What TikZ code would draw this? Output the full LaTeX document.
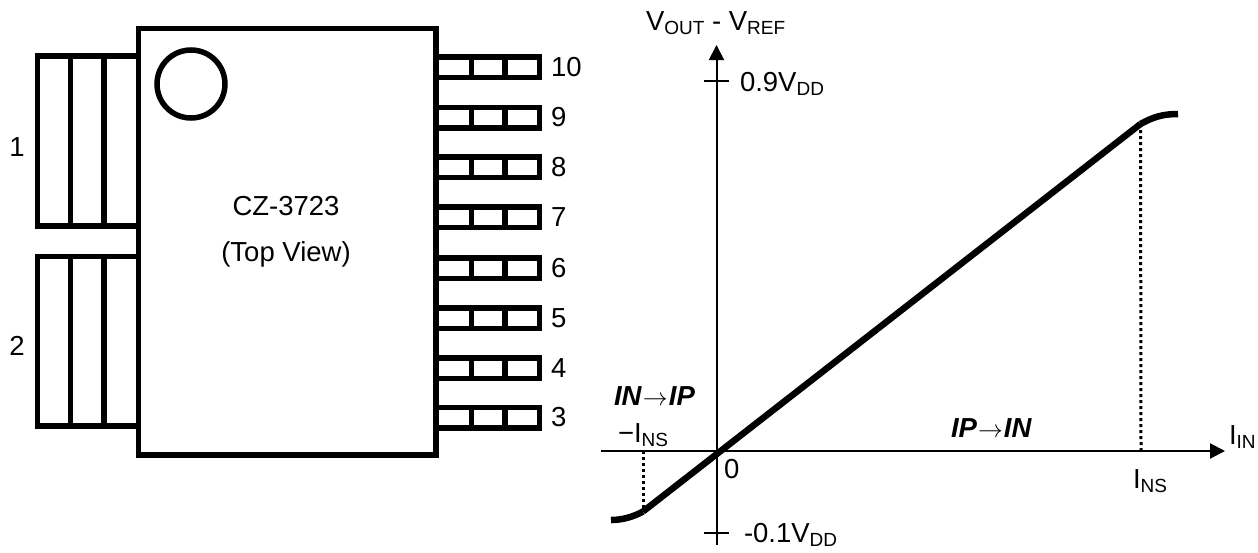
\documentclass[tikz,border=0pt]{standalone}
\usepackage{fontspec}
\setmainfont{Liberation Sans}
\usetikzlibrary{arrows.meta}
\newcommand\lowtxt[1]{\raisebox{-4.5pt}{\fontsize{19}{19}\selectfont #1}}
\newcommand\dirarrow{\hspace{1pt}$\rightarrow$\hspace{1pt}}
\tikzset{
  outline/.style={draw=black,line width=5.5pt,fill=white,line join=miter},
  pinline/.style={draw=black,line width=5.5pt},
  axisline/.style={draw=black,line width=2pt},
  axisarrow/.style={axisline,-{Triangle[length=15pt,width=15pt]}},
  curveline/.style={draw=black,line width=6.5pt,line cap=butt},
  dotline/.style={draw=black,line width=3pt,dash pattern=on 3pt off 3pt},
  lbl/.style={inner sep=0pt,outer sep=0pt,anchor=base west,font=\fontsize{27.5}{27.5}\selectfont},
  lblc/.style={lbl,anchor=base},
}
\begin{document}
\begin{tikzpicture}[x=1pt,y=-1pt]
\useasboundingbox (0,0) rectangle (1258,552);
% body
\draw[outline] (138.5,28.5) rectangle (436,455);
\draw[outline] (191,84) circle (34);
% left leads
\foreach \t/\b in {56/226,256.5/426}{
  \draw[pinline] (138.5,\t) -- (37.5,\t) -- (37.5,\b) -- (138.5,\b);
  \draw[pinline] (70.7,\t) -- (70.7,\b);
  \draw[pinline] (104,\t) -- (104,\b);
}
% right pins
\foreach \t/\n [evaluate=\t as \b using \t+20.5, evaluate=\t as \bl using \t+19] in {57/10,107.5/9,157/8,207/7,258/6,308/5,358/4,407.5/3}{
  \draw[pinline] (436,\t) -- (539.7,\t) -- (539.7,\b) -- (436,\b);
  \draw[pinline] (471.7,\t) -- (471.7,\b);
  \draw[pinline] (505,\t) -- (505,\b);
  \node[lbl] (pin\n) at (551,\bl) {\n};
}
\node[lblc] (one) at (17,156) {1};
\node[lblc] (two) at (17,355) {2};
\node[lblc] (part) at (286,215) {CZ-3723};
\node[lblc] (view) at (286,261) {(Top View)};
% axes
\coordinate (xa) at (601,451);
\coordinate (xb) at (1225,451);
\coordinate (ya) at (716.5,545);
\coordinate (yb) at (716.5,45);
\draw[axisarrow] (xa) -- (xb);
\draw[axisarrow] (ya) -- (yb);
\coordinate (t1a) at (704,81);
\coordinate (t1b) at (729,81);
\coordinate (t2a) at (704,533);
\coordinate (t2b) at (729,533);
\draw[axisline] (t1a) -- (t1b);
\draw[axisline] (t2a) -- (t2b);
% curve
\coordinate (c0) at (611,520);
\coordinate (c1) at (643,511.5);
\coordinate (c2) at (1140.5,124);
\coordinate (c3) at (1178,114);
\coordinate (d1) at (643,451);
\coordinate (d2) at (1141,451);
\draw[dotline] (d1) -- (c1);
\draw[dotline] (d2) -- (c2);
\draw[curveline] (c1) -- (c2);
\draw[curveline] (c0) .. controls (622,520) and (633,517) .. (c1);
\draw[curveline] (c2) .. controls (1153,117) and (1163,114) .. (c3);
% labels
\node[lbl] (yl) at (646,30) {V\lowtxt{OUT} - V\lowtxt{REF}};
\node[lbl] (ytop) at (740,91) {0.9V\lowtxt{DD}};
\node[lbl] (ybot) at (744,542) {-0.1V\lowtxt{DD}};
\node[lbl] (zero) at (724,478) {0};
\node[lbl] (neg) at (618,442) {−I\lowtxt{NS}};
\node[lbl] (ins) at (1133,488) {I\lowtxt{NS}};
\node[lbl] (iin) at (1229,444) {I\lowtxt{IN}};
\node[lbl] (dirn) at (614,405) {\textbf{\textit{IN}}\dirarrow\textbf{\textit{IP}}};
\node[lbl] (dirp) at (951,437) {\textbf{\textit{IP}}\dirarrow\textbf{\textit{IN}}};
\end{tikzpicture}
\end{document}
